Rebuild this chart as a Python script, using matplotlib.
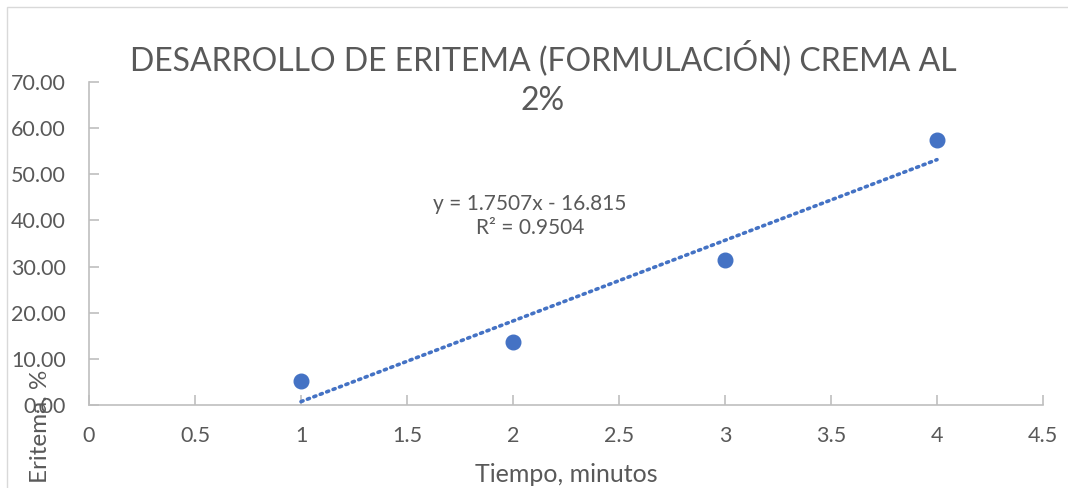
import numpy as np
import matplotlib.pyplot as plt
from matplotlib.patches import Rectangle

plt.rcParams['font.family'] = ['Lato', 'DejaVu Sans']

# data
tiempo = np.array([1, 2, 3, 4])
eritema = np.array([5.2, 13.6, 31.5, 57.5])
eq_text = "y = 1.7507x - 16.815\nR² = 0.9504"

azul = '#4472C4'
gris = '#595959'

fig = plt.figure(figsize=(10.68, 4.88), dpi=100)
ax = fig.add_axes([89/1068, 1 - 405/488, (1043 - 89)/1068, (405 - 82)/488])

# linear trend
m, b = np.polyfit(tiempo, eritema, 1)
xt = np.array([tiempo.min(), tiempo.max()])
ax.plot(xt, m*xt + b, linestyle=(0, (0.6, 1.3)), color=azul, lw=2.6,
        dash_capstyle='round', zorder=2)
ax.plot(tiempo, eritema, 'o', color=azul, markersize=10.5, zorder=3)

ax.set_xlim(0, 4.5)
ax.set_ylim(0, 70)
ax.set_xticks(np.arange(0, 4.51, 0.5))
ax.set_xticklabels(['0', '0.5', '1', '1.5', '2', '2.5', '3', '3.5', '4', '4.5'])
ax.set_yticks(np.arange(0, 71, 10))
ax.set_yticklabels(['%.2f' % v for v in np.arange(0, 71, 10)])

for s in ['top', 'right']:
    ax.spines[s].set_visible(False)
for s in ['left', 'bottom']:
    ax.spines[s].set_color('#BFBFBF')
    ax.spines[s].set_linewidth(1.2)
ax.tick_params(axis='both', direction='in', length=7, width=1.2, color='#BFBFBF',
               labelcolor=gris, labelsize=15.5)
ax.tick_params(axis='y', pad=16.5)
ax.tick_params(axis='x', pad=15)

fig.text(543/1068, 1 - 78/488, "DESARROLLO DE ERITEMA (FORMULACIÓN) CREMA AL\n2%",
         ha='center', va='center', fontsize=23, color=gris, linespacing=1.4)
fig.text(530/1068, 1 - 216/488, eq_text, ha='center', va='center',
         fontsize=15, color=gris, linespacing=1.2)
fig.text(566/1068, 1 - 474/488, "Tiempo, minutos", ha='center', va='center',
         fontsize=18, color=gris)
fig.text(40/1068, 1 - 426/488, "Eritema, %", ha='center', va='center',
         rotation=90, fontsize=17.5, color=gris)

fig.patches.append(Rectangle((7/1068, -0.01), 1.2, 1 - 7/488 + 0.01,
                             transform=fig.transFigure, fill=False,
                             edgecolor='#D9D9D9', lw=1))

fig.savefig('out.png', dpi=100)
